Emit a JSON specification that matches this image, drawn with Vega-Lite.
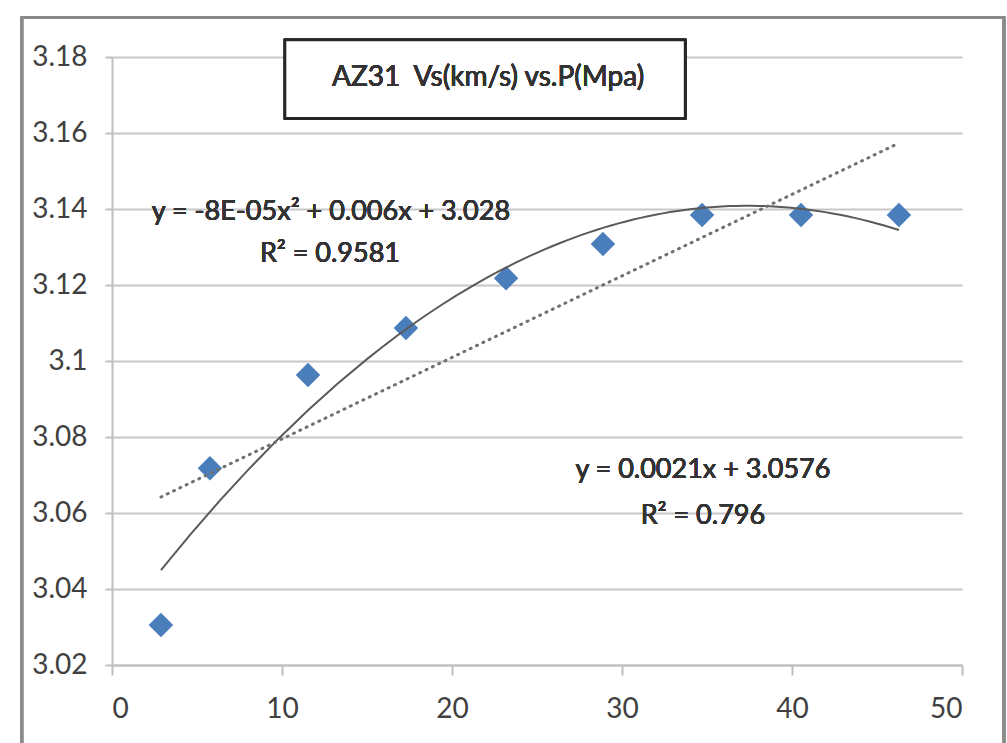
{
  "$schema": "https://vega.github.io/schema/vega-lite/v6.json",
  "autosize": "none",
  "width": 850,
  "height": 608,
  "padding": {"left": 112, "top": 57, "right": 45, "bottom": 78},
  "background": "white",
  "config": {
    "view": {"stroke": null},
    "font": "Lato",
    "axis": {
      "labelFont": "Lato",
      "labelFontSize": 28,
      "labelColor": "#404040",
      "domainColor": "#bfbfbf",
      "domainWidth": 2,
      "tickColor": "#bfbfbf",
      "tickWidth": 2,
      "gridColor": "#c8c8c8",
      "gridWidth": 2,
      "title": null
    }
  },
  "data": {
    "values": [
      {"x": 2.88, "y": 3.0305},
      {"x": 5.76, "y": 3.0718},
      {"x": 11.53, "y": 3.0963},
      {"x": 17.29, "y": 3.1087},
      {"x": 23.18, "y": 3.1218},
      {"x": 28.88, "y": 3.1308},
      {"x": 34.71, "y": 3.1384},
      {"x": 40.53, "y": 3.1384},
      {"x": 46.29, "y": 3.1384}
    ]
  },
  "layer": [
    {
      "mark": {"type": "point", "shape": "diamond", "filled": true, "size": 600, "color": "#4a7ebb", "opacity": 1},
      "encoding": {
        "x": {"field": "x", "type": "quantitative", "scale": {"domain": [0, 50], "nice": false, "zero": false},
              "axis": {"title": null, "values": [0, 10, 20, 30, 40, 50], "format": "d", "grid": false, "tickSize": 10, "labelPadding": 20}},
        "y": {"field": "y", "type": "quantitative", "scale": {"domain": [3.02, 3.18], "nice": false, "zero": false},
              "axis": {"title": null, "values": [3.02, 3.04, 3.06, 3.08, 3.1, 3.12, 3.14, 3.16, 3.18], "format": "~g", "grid": true, "tickSize": 7, "labelPadding": 18}}
      }
    },
    {
      "transform": [{"regression": "y", "on": "x", "method": "poly", "order": 2}],
      "mark": {"type": "line", "color": "#5a5a5a", "strokeWidth": 2},
      "encoding": {
        "x": {"field": "x", "type": "quantitative"},
        "y": {"field": "y", "type": "quantitative"}
      }
    },
    {
      "transform": [{"regression": "y", "on": "x", "method": "linear"}],
      "mark": {"type": "line", "color": "#707070", "strokeWidth": 3, "strokeDash": [1, 6], "strokeCap": "round"},
      "encoding": {
        "x": {"field": "x", "type": "quantitative"},
        "y": {"field": "y", "type": "quantitative"}
      }
    },
    {
      "mark": {"type": "rect", "fill": null, "stroke": "#8a8a8a", "strokeWidth": 2.5},
      "encoding": {
        "x": {"datum": -5.3, "type": "quantitative"},
        "x2": {"datum": 52.47},
        "y": {"datum": 3.1903, "type": "quantitative"},
        "y2": {"datum": 2.99}
      }
    },
    {
      "mark": {"type": "rect", "fill": "white", "stroke": "#262626", "strokeWidth": 2.5},
      "encoding": {
        "x": {"datum": 10.18, "type": "quantitative"},
        "x2": {"datum": 33.71},
        "y": {"datum": 3.1845, "type": "quantitative"},
        "y2": {"datum": 3.1639}
      }
    },
    {
      "mark": {"type": "text", "text": "AZ31\u00a0\u00a0Vs(km/s) vs.P(Mpa)", "fontSize": 28, "color": "#333333", "align": "center", "baseline": "middle"},
      "encoding": {
        "x": {"datum": 22.12, "type": "quantitative"},
        "y": {"datum": 3.1745, "type": "quantitative"}
      }
    },
    {
      "mark": {"type": "text", "text": "y = -8E-05x² + 0.006x + 3.028", "fontSize": 27, "color": "#333333", "align": "center", "baseline": "middle"},
      "encoding": {
        "x": {"datum": 12.88, "type": "quantitative"},
        "y": {"datum": 3.1392, "type": "quantitative"}
      }
    },
    {
      "mark": {"type": "text", "text": "R² = 0.9581", "fontSize": 27, "color": "#333333", "align": "center", "baseline": "middle"},
      "encoding": {
        "x": {"datum": 12.82, "type": "quantitative"},
        "y": {"datum": 3.1282, "type": "quantitative"}
      }
    },
    {
      "mark": {"type": "text", "text": "y = 0.0021x + 3.0576", "fontSize": 27, "color": "#333333", "align": "center", "baseline": "middle"},
      "encoding": {
        "x": {"datum": 34.76, "type": "quantitative"},
        "y": {"datum": 3.0713, "type": "quantitative"}
      }
    },
    {
      "mark": {"type": "text", "text": "R² = 0.796", "fontSize": 27, "color": "#333333", "align": "center", "baseline": "middle"},
      "encoding": {
        "x": {"datum": 34.76, "type": "quantitative"},
        "y": {"datum": 3.0592, "type": "quantitative"}
      }
    }
  ]
}
